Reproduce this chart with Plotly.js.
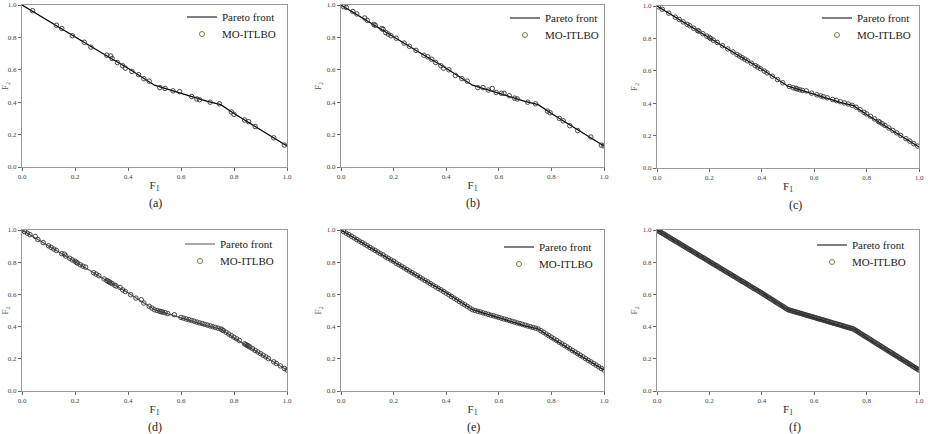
<!DOCTYPE html>
<html>
<head>
<meta charset="utf-8">
<script src="https://cdn.plot.ly/plotly-3.0.1.min.js"></script>
<style>html,body{margin:0;padding:0;background:#fff;}#chart{width:928px;height:434px;}</style>
</head>
<body>
<div id="chart"></div>
<script>
// Pareto front (reference curve)
const frontF1 = [0, 0.1, 0.2, 0.3, 0.4, 0.45, 0.5, 0.53, 0.6, 0.7, 0.75, 0.8, 0.9, 1.0];
const frontF2 = [1, 0.9, 0.805, 0.705, 0.61, 0.56, 0.505, 0.49, 0.455, 0.405, 0.385, 0.33, 0.23, 0.13];

// (a)
const aF1 = [0.04,0.13,0.15,0.19,0.235,0.26,0.32,0.335,0.34,0.36,0.38,0.39,0.415,0.44,0.46,0.48,0.52,0.54,0.57,0.595,0.64,0.66,0.67,0.71,0.745,0.79,0.80,0.84,0.855,0.88,0.95,0.99];
const aF2 = [0.965,0.875,0.855,0.81,0.77,0.74,0.69,0.685,0.67,0.645,0.625,0.61,0.59,0.57,0.545,0.53,0.49,0.485,0.47,0.465,0.435,0.42,0.415,0.40,0.39,0.34,0.325,0.29,0.28,0.25,0.18,0.135];

// (b)
const bF1 = [0.01,0.02,0.045,0.06,0.09,0.1,0.125,0.13,0.155,0.16,0.17,0.18,0.19,0.21,0.24,0.26,0.285,0.315,0.33,0.345,0.36,0.38,0.39,0.41,0.435,0.46,0.48,0.52,0.54,0.56,0.575,0.59,0.61,0.62,0.64,0.66,0.67,0.71,0.74,0.785,0.795,0.83,0.845,0.87,0.9,0.95,0.99,1.0];
const bF2 = [0.99,0.985,0.96,0.945,0.92,0.905,0.88,0.875,0.855,0.85,0.83,0.82,0.81,0.795,0.765,0.745,0.72,0.69,0.68,0.665,0.645,0.625,0.61,0.6,0.565,0.545,0.53,0.49,0.49,0.475,0.485,0.46,0.455,0.455,0.44,0.425,0.42,0.40,0.39,0.345,0.335,0.30,0.285,0.255,0.225,0.185,0.135,0.13];

// (c)
const cF1 = [0.005,0.02,0.045,0.07,0.085,0.1,0.115,0.125,0.14,0.155,0.16,0.175,0.19,0.2,0.205,0.215,0.23,0.25,0.27,0.29,0.305,0.315,0.325,0.335,0.345,0.36,0.375,0.385,0.395,0.41,0.42,0.44,0.46,0.48,0.505,0.52,0.53,0.535,0.545,0.555,0.57,0.59,0.61,0.625,0.635,0.65,0.67,0.685,0.7,0.715,0.73,0.745,0.76,0.775,0.79,0.8,0.815,0.83,0.845,0.85,0.86,0.87,0.885,0.9,0.915,0.93,0.95,0.965,0.98,0.995];
const cF2 = [0.995,0.98,0.956,0.931,0.917,0.902,0.887,0.878,0.863,0.848,0.845,0.829,0.814,0.806,0.799,0.789,0.775,0.755,0.735,0.716,0.701,0.691,0.681,0.672,0.662,0.647,0.632,0.623,0.613,0.598,0.587,0.567,0.546,0.526,0.503,0.495,0.492,0.488,0.483,0.479,0.476,0.462,0.452,0.445,0.44,0.433,0.423,0.416,0.409,0.402,0.395,0.387,0.375,0.36,0.344,0.334,0.319,0.303,0.288,0.283,0.273,0.263,0.247,0.232,0.217,0.201,0.181,0.166,0.15,0.135];

// (d)
const dF1 = [0.0,0.01,0.02,0.03,0.05,0.06,0.08,0.1,0.11,0.12,0.13,0.15,0.16,0.165,0.18,0.19,0.2,0.205,0.21,0.22,0.23,0.24,0.27,0.28,0.29,0.31,0.32,0.325,0.33,0.335,0.34,0.35,0.355,0.37,0.38,0.39,0.41,0.43,0.45,0.46,0.48,0.49,0.5,0.51,0.52,0.525,0.53,0.54,0.55,0.575,0.6,0.61,0.62,0.63,0.64,0.65,0.66,0.67,0.68,0.69,0.7,0.71,0.72,0.73,0.74,0.75,0.755,0.76,0.77,0.78,0.79,0.8,0.81,0.82,0.84,0.845,0.85,0.855,0.86,0.87,0.88,0.89,0.9,0.91,0.92,0.93,0.95,0.96,0.975,0.99,1.0];
const dF2 = [1.0,0.99,0.98,0.971,0.96,0.941,0.922,0.902,0.892,0.882,0.873,0.853,0.85,0.838,0.824,0.814,0.806,0.799,0.794,0.784,0.775,0.769,0.735,0.726,0.716,0.696,0.686,0.681,0.677,0.672,0.667,0.657,0.652,0.643,0.628,0.618,0.598,0.577,0.567,0.546,0.526,0.515,0.505,0.5,0.495,0.493,0.49,0.486,0.481,0.474,0.457,0.452,0.447,0.443,0.438,0.433,0.428,0.423,0.419,0.414,0.409,0.404,0.399,0.395,0.39,0.385,0.38,0.375,0.365,0.354,0.344,0.334,0.324,0.314,0.293,0.288,0.283,0.278,0.273,0.263,0.252,0.242,0.232,0.222,0.212,0.201,0.181,0.171,0.156,0.14,0.13];

// (e)
const eF1 = [0.00,0.01,0.02,0.03,0.04,0.05,0.06,0.07,0.08,0.09,0.10,0.11,0.12,0.13,0.14,0.15,0.16,0.17,0.18,0.19,0.20,0.21,0.22,0.23,0.24,0.25,0.26,0.27,0.28,0.29,0.30,0.31,0.32,0.33,0.34,0.35,0.36,0.37,0.38,0.39,0.40,0.41,0.42,0.43,0.44,0.45,0.46,0.47,0.48,0.49,0.50,0.51,0.52,0.53,0.54,0.55,0.56,0.57,0.58,0.59,0.60,0.61,0.62,0.63,0.64,0.65,0.66,0.67,0.68,0.69,0.70,0.71,0.72,0.73,0.74,0.75,0.76,0.77,0.78,0.79,0.80,0.81,0.82,0.83,0.84,0.85,0.86,0.87,0.88,0.89,0.90,0.91,0.92,0.93,0.94,0.95,0.96,0.97,0.98,0.99,1.00];
const eF2 = [1.000,0.990,0.980,0.971,0.961,0.951,0.941,0.931,0.922,0.912,0.902,0.892,0.882,0.873,0.863,0.853,0.845,0.833,0.824,0.814,0.806,0.794,0.784,0.775,0.765,0.755,0.745,0.735,0.726,0.716,0.706,0.696,0.686,0.677,0.667,0.657,0.647,0.637,0.628,0.618,0.608,0.598,0.587,0.577,0.567,0.556,0.546,0.536,0.526,0.515,0.505,0.500,0.495,0.491,0.486,0.481,0.476,0.471,0.467,0.462,0.457,0.452,0.447,0.443,0.438,0.433,0.428,0.423,0.419,0.414,0.409,0.404,0.399,0.395,0.390,0.385,0.375,0.365,0.354,0.344,0.334,0.324,0.314,0.303,0.293,0.283,0.273,0.263,0.252,0.242,0.232,0.222,0.212,0.201,0.191,0.181,0.171,0.161,0.150,0.140,0.130];

// (f)
const fF1 = [0.000,0.005,0.010,0.015,0.020,0.025,0.030,0.035,0.040,0.045,0.050,0.055,0.060,0.065,0.070,0.075,0.080,0.085,0.090,0.095,0.100,0.105,0.110,0.115,0.120,0.125,0.130,0.135,0.140,0.145,0.150,0.155,0.160,0.165,0.170,0.175,0.180,0.185,0.190,0.195,0.200,0.205,0.210,0.215,0.220,0.225,0.230,0.235,0.240,0.245,0.250,0.255,0.260,0.265,0.270,0.275,0.280,0.285,0.290,0.295,0.300,0.305,0.310,0.315,0.320,0.325,0.330,0.335,0.340,0.345,0.350,0.355,0.360,0.365,0.370,0.375,0.380,0.385,0.390,0.395,0.400,0.405,0.410,0.415,0.420,0.425,0.430,0.435,0.440,0.445,0.450,0.455,0.460,0.465,0.470,0.475,0.480,0.485,0.490,0.495,0.500,0.505,0.510,0.515,0.520,0.525,0.530,0.535,0.540,0.545,0.550,0.555,0.560,0.565,0.570,0.575,0.580,0.585,0.590,0.595,0.600,0.605,0.610,0.615,0.620,0.625,0.630,0.635,0.640,0.645,0.650,0.655,0.660,0.665,0.670,0.675,0.680,0.685,0.690,0.695,0.700,0.705,0.710,0.715,0.720,0.725,0.730,0.735,0.740,0.745,0.750,0.755,0.760,0.765,0.770,0.775,0.780,0.785,0.790,0.795,0.800,0.805,0.810,0.815,0.820,0.825,0.830,0.835,0.840,0.845,0.850,0.855,0.860,0.865,0.870,0.875,0.880,0.885,0.890,0.895,0.900,0.905,0.910,0.915,0.920,0.925,0.930,0.935,0.940,0.945,0.950,0.955,0.960,0.965,0.970,0.975,0.980,0.985,0.990,0.995,1.000];
const fF2 = [1.000,0.995,0.990,0.985,0.980,0.976,0.971,0.966,0.961,0.956,0.951,0.946,0.941,0.936,0.931,0.927,0.922,0.917,0.912,0.907,0.902,0.897,0.892,0.887,0.882,0.878,0.873,0.868,0.863,0.858,0.853,0.848,0.843,0.838,0.833,0.829,0.824,0.819,0.814,0.809,0.804,0.799,0.794,0.789,0.784,0.780,0.775,0.770,0.765,0.760,0.755,0.750,0.745,0.740,0.735,0.731,0.726,0.721,0.716,0.711,0.706,0.701,0.696,0.691,0.686,0.681,0.677,0.672,0.667,0.662,0.657,0.652,0.647,0.642,0.637,0.633,0.628,0.623,0.618,0.613,0.608,0.603,0.598,0.593,0.587,0.582,0.577,0.572,0.567,0.562,0.556,0.551,0.546,0.541,0.536,0.531,0.526,0.521,0.515,0.510,0.505,0.503,0.500,0.498,0.495,0.493,0.491,0.488,0.486,0.484,0.481,0.479,0.476,0.474,0.471,0.469,0.467,0.464,0.462,0.460,0.457,0.455,0.452,0.450,0.447,0.445,0.443,0.440,0.438,0.436,0.433,0.431,0.428,0.426,0.423,0.421,0.419,0.416,0.414,0.412,0.409,0.407,0.404,0.402,0.399,0.397,0.395,0.392,0.390,0.388,0.385,0.380,0.375,0.370,0.365,0.359,0.354,0.349,0.344,0.339,0.334,0.329,0.324,0.319,0.314,0.308,0.303,0.298,0.293,0.288,0.283,0.278,0.273,0.268,0.263,0.257,0.252,0.247,0.242,0.237,0.232,0.227,0.222,0.217,0.212,0.206,0.201,0.196,0.191,0.186,0.181,0.176,0.171,0.166,0.161,0.155,0.150,0.145,0.140,0.135,0.130];

const panelLabels = ['(a)','(b)','(c)','(d)','(e)','(f)'];
const tickVals = [0, 0.2, 0.4, 0.6, 0.8, 1.0];
const tickText = ['0.0','0.2','0.4','0.6','0.8','1.0'];
const frontName = 'Pareto front';
const algoName = 'MO-ITLBO';

const pts = [[aF1,aF2],[bF1,bF2],[cF1,cF2],[dF1,dF2],[eF1,eF2],[fF1,fF2]];

const SERIF = '"Liberation Serif", "Times New Roman", serif';
const W = 928, H = 434;
// pixel boxes [left, right, top, bottom]
const boxes = [
  [22,287,5,167],[341,604,5,167],[657,919,6,168],
  [22,287,230,391],[341,604,230,391],[657,919,230,391]
];
// legend: [text-start x, row1 centre y, row2 centre y]
const legendPos = [[222,17,34],[545,18,35],[857,18,35],[220,244,261],[539,247,264],[852,245,262]];
const labelPos = [[155,203],[473,203],[795,205],[155,427],[473,427],[795,427]];

const data = [];
const layout = {
  width: W, height: H,
  margin: {l:0,r:0,t:0,b:0},
  paper_bgcolor: '#fff', plot_bgcolor: '#fff',
  font: {family: SERIF, color: '#222'},
  showlegend: true,
  annotations: []
};

function legendBox(x, y) {
  return {
    x: (x - 40)/W, y: 1 - y/H, xanchor: 'left', yanchor: 'middle',
    bgcolor: 'rgba(0,0,0,0)', borderwidth: 0,
    font: {family: SERIF, size: 11, color: '#222'},
    tracegroupgap: 0, itemwidth: 30
  };
}

for (let i = 0; i < 6; i++) {
  const n = i === 0 ? '' : String(i+1);
  const xa = 'x' + n, ya = 'y' + n;
  const lg1 = i === 0 ? 'legend' : 'legend' + (2*i+1);
  const lg2 = 'legend' + (2*i+2);
  data.push({
    type:'scatter', mode:'lines', x: frontF1, y: frontF2, xaxis: xa, yaxis: ya,
    name: frontName, legend: lg1,
    line: {color: i === 3 ? '#555' : '#000', width: 1.2}
  });
  data.push({
    type:'scatter', mode:'markers', x: pts[i][0], y: pts[i][1], xaxis: xa, yaxis: ya,
    name: algoName, showlegend: false, legend: lg2,
    marker: {symbol:'circle-open', size: 4.5, color:'#333', line:{width:0.9}}
  });
  data.push({
    type:'scatter', mode:'markers', x: [null], y: [null], xaxis: xa, yaxis: ya,
    name: algoName, legend: lg2,
    marker: {symbol:'circle-open', size: 5, color:'#7d7d3a', line:{width:1}}
  });
  const b = boxes[i];
  const axCommon = {
    range: [0,1], tickvals: tickVals, ticktext: tickText,
    showline: true, mirror: true, linecolor: '#999', linewidth: 1,
    ticks: 'outside', ticklen: 3, tickcolor: '#666', tickwidth: 1,
    showgrid: false, zeroline: false,
    tickfont: {family: SERIF, size: 7, color: '#444'},
    automargin: false, fixedrange: true
  };
  layout['xaxis' + n] = Object.assign({}, axCommon, {
    domain: [b[0]/W, b[1]/W], anchor: ya,
    title: {text: 'F<sub>1</sub>', font: {family: SERIF, size: 11, color: '#1f3340'}, standoff: 0}
  });
  layout['yaxis' + n] = Object.assign({}, axCommon, {
    domain: [1 - b[3]/H, 1 - b[2]/H], anchor: xa,
    title: {text: 'F<sub>2</sub>', font: {family: SERIF, size: 9, color: '#555'}, standoff: 3}
  });
  layout[lg1] = legendBox(legendPos[i][0], legendPos[i][1]);
  layout[lg2] = legendBox(legendPos[i][0], legendPos[i][2]);
  layout.annotations.push({
    xref: 'paper', yref: 'paper', x: labelPos[i][0]/W, y: 1 - labelPos[i][1]/H,
    text: panelLabels[i], showarrow: false, xanchor: 'center', yanchor: 'middle',
    font: {family: SERIF, size: 12, color: '#222'}
  });
}

Plotly.newPlot('chart', data, layout, {staticPlot: true, displayModeBar: false});
</script>
</body>
</html>
